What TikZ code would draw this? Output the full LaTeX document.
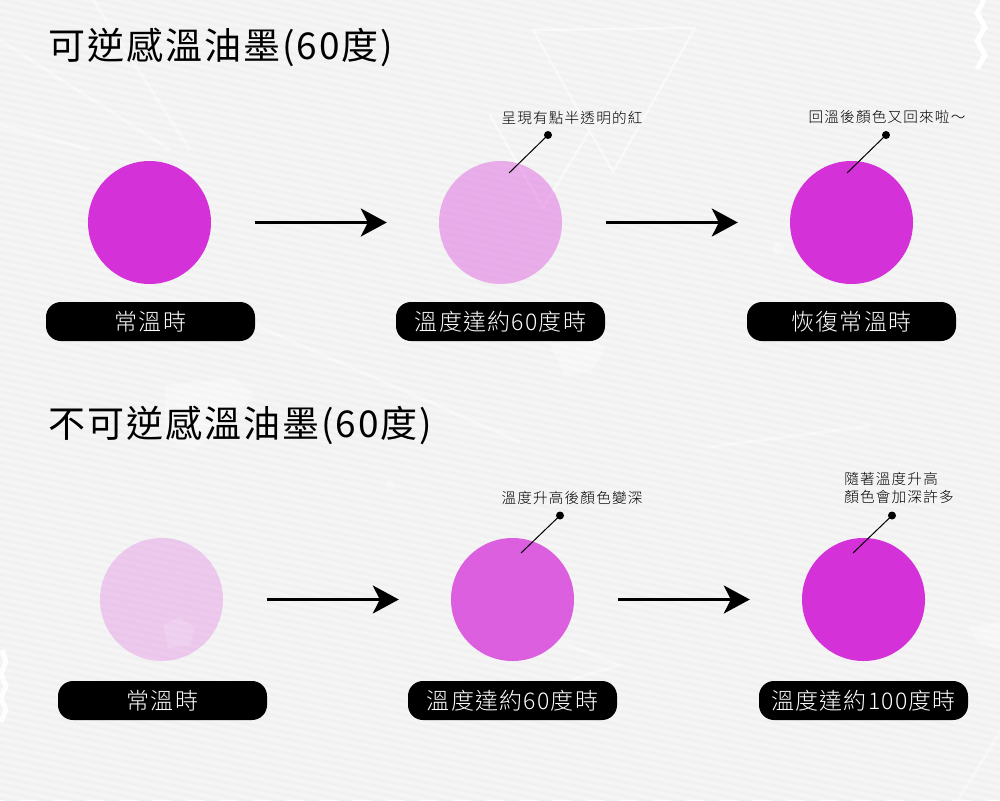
\documentclass[tikz,border=0pt]{standalone}
\usepackage{fontspec}
\usetikzlibrary{arrows.meta,calc}
\newfontfamily\headfont[LetterSpace=5.4]{Noto Sans CJK TC}
\newfontfamily\pillfont[LetterSpace=5.4]{Noto Sans CJK TC Light}
\newfontfamily\notefont[LetterSpace=8.2]{Noto Sans CJK TC Light}
\definecolor{bgbase}{HTML}{F5F5F5}
\definecolor{bgstripe}{HTML}{F1F1F1}
\definecolor{inkfull}{HTML}{D531D9}
\tikzset{
  x=1pt,y=-1pt,
  inkdisc/.style={circle,minimum size=123pt,inner sep=0pt,draw=none},
  pill/.style={fill=black,text=white,rounded corners=15pt,minimum width=209pt,minimum height=39pt,inner sep=0pt,font=\pillfont\fontsize{23}{25}\selectfont},
  heading/.style={anchor=west,inner sep=0pt,font=\headfont\fontsize{37}{40}\selectfont},
  note/.style={inner sep=0pt,font=\notefont\fontsize{14.6}{18.5}\selectfont,align=left},
  flow/.style={draw=black,line width=2.6pt,-{Stealth[length=26pt,width=28pt,inset=7pt]}},
  pin/.style={circle,fill=black,minimum size=8pt,inner sep=0pt},
  leader/.style={draw=black,line width=1pt},
  decor/.style={draw=white,line width=2.5pt,opacity=.5,line join=round},
  decorsoft/.style={draw=white,line width=3pt,opacity=.4},
  blob/.style={fill=white,opacity=.35}
}
\begin{document}
\begin{tikzpicture}
\useasboundingbox (0,0) rectangle (1000,800);
\fill[bgbase] (0,0) rectangle (1000,800);
\begin{scope}
\clip (0,0) rectangle (1000,800);
\foreach \k in {-30,...,130}{
  \draw[bgstripe,line width=3pt] (0,\k*7) -- (1000,\k*7+210);
}
% faint background marks
\draw[decor] (533,30) -- (695,28) -- (613,172) -- cycle;
\draw[decor] (490,115) -- (543,208) -- (590,130);
\draw[decorsoft] (93,0) -- (190,150);
\draw[decorsoft] (0,40) -- (170,150);
\draw[decorsoft] (0,125) -- (90,150);
\draw[decorsoft] (255,325) -- (520,442);
\draw[decorsoft] (710,447) -- (870,426);
\draw[decorsoft] (555,640) -- (620,665) -- (570,680);
\draw[decorsoft] (958,800) -- (1000,732);
\fill[blob] (550,345) -- (590,335) -- (605,350) -- (590,372) -- (565,375) -- cycle;
\fill[blob] (165,385) -- (235,378) -- (255,395) -- (195,450) -- (165,440) -- cycle;
\fill[blob] (968,628) -- (1000,622) -- (1000,650) -- (978,642) -- cycle;
\fill[blob] (778,249) circle (6);
\fill[blob] (390,485) circle (5);
\draw[white,line width=5pt,line join=miter] (984,0) -- (977,13) -- (985,27) -- (977,41) -- (985,55) -- (977,69);
\draw[white,line width=5pt,opacity=.9] (2,650) -- (6,662) -- (1,674) -- (6,686) -- (1,698) -- (6,710) -- (1,722);
\end{scope}

\node[heading] (t1) at (48,47) {可逆感溫油墨(60度)};
\node[heading] (t2) at (48,425) {不可逆感溫油墨(60度)};

\node[inkdisc,fill=inkfull]  (a1) at (149.5,222.5) {};
\node[inkdisc,fill=inkfull,fill opacity=.36] (a2) at (500.5,222.5) {};
\node[inkdisc,fill=inkfull]  (a3) at (851.5,222.5) {};
\node[inkdisc,fill=inkfull,fill opacity=.22] (b1) at (161.5,599.5) {};
\node[inkdisc,fill=inkfull,fill opacity=.76] (b2) at (512.5,599.5) {};
\node[inkdisc,fill=inkfull]  (b3) at (863.5,599.5) {};
\fill[white,opacity=.14] (163,625) -- (180,617) -- (195,628) -- (190,645) -- (168,648) -- cycle;

\node[pill] (pa1) at (150.5,321.5) {常溫時};
\node[pill] (pa2) at (500.5,321.5) {溫度達約60度時};
\node[pill] (pa3) at (851.5,321.5) {恢復常溫時};
\node[pill] (pb1) at (162.5,700.5) {常溫時};
\node[pill] (pb2) at (512.5,700.5) {溫度達約60度時};
\node[pill] (pb3) at (863.5,700.5) {溫度達約100度時};

\draw[flow,shorten <=44pt,shorten >=52pt] (a1.east) -- (a2.west);
\draw[flow,shorten <=44pt,shorten >=52pt] (a2.east) -- (a3.west);
\draw[flow,shorten <=44pt,shorten >=52pt] (b1.east) -- (b2.west);
\draw[flow,shorten <=44pt,shorten >=52pt] (b2.east) -- (b3.west);

\node[note] (na2) at (572,118) {呈現有點半透明的紅};
\node[note] (na3) at (887,117) {回溫後顏色又回來啦～};
\node[note] (nb2) at (572,498) {溫度升高後顏色變深};
\node[note] (nb3) at (899,488) {隨著溫度升高\\顏色會加深許多};

\node[pin] (da2) at (548,135) {};
\node[pin] (da3) at (886,135) {};
\node[pin] (db2) at (560,515.5) {};
\node[pin] (db3) at (892,515.5) {};
\coordinate (ea2) at (509,173);
\coordinate (ea3) at (847,173);
\coordinate (eb2) at (521,553);
\coordinate (eb3) at (853,553);
\draw[leader] (da2.center) -- (ea2);
\draw[leader] (da3.center) -- (ea3);
\draw[leader] (db2.center) -- (eb2);
\draw[leader] (db3.center) -- (eb3);
\end{tikzpicture}
\end{document}
